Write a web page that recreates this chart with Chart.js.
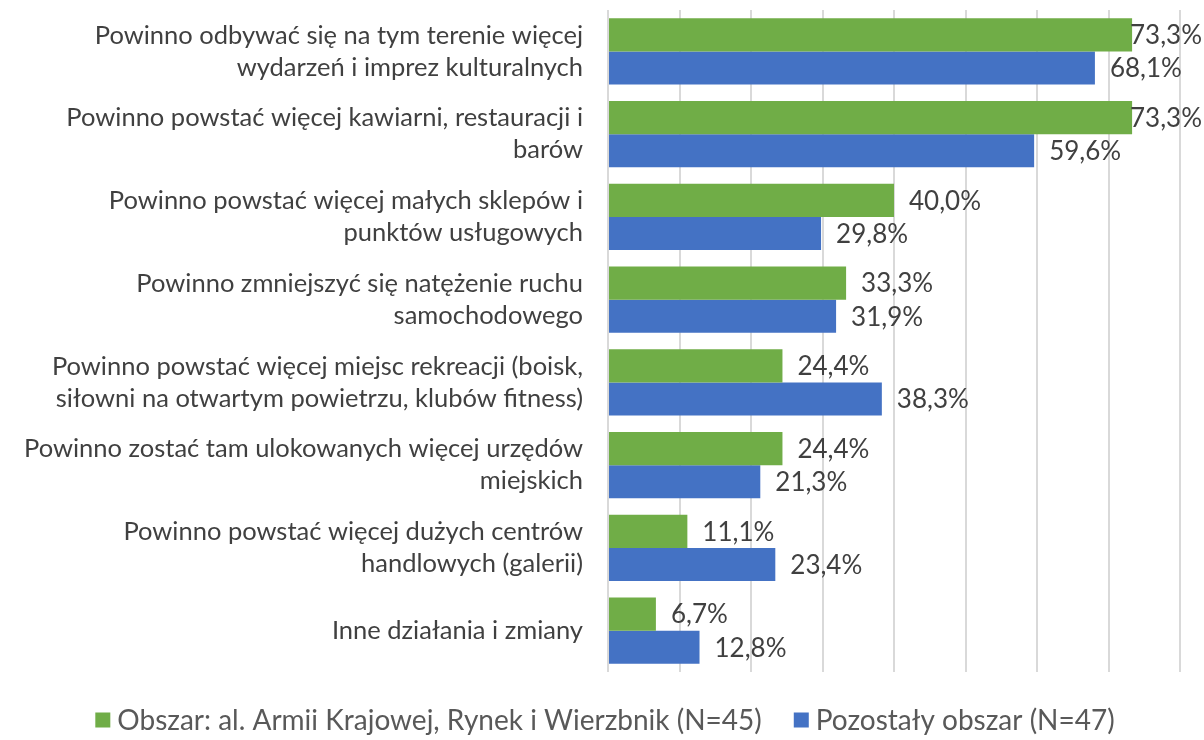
<!DOCTYPE html>
<html>
<head>
<meta charset="utf-8">
<script src="https://cdn.jsdelivr.net/npm/chart.js@4/dist/chart.umd.min.js"></script>
<style>
  html, body { margin: 0; padding: 0; background: #fff; }
  #wrap { width: 1204px; height: 740px; }
</style>
</head>
<body>
<div id="wrap"><canvas id="chart"></canvas></div>
<script>
// Categories (two-line labels as in the picture)
const categories = [
  ["Powinno odbywać się na tym terenie więcej", "wydarzeń i imprez kulturalnych"],
  ["Powinno powstać więcej kawiarni, restauracji i", "barów"],
  ["Powinno powstać więcej małych sklepów i", "punktów usługowych"],
  ["Powinno zmniejszyć się natężenie ruchu", "samochodowego"],
  ["Powinno powstać więcej miejsc rekreacji (boisk,", "siłowni na otwartym powietrzu, klubów fitness)"],
  ["Powinno zostać tam ulokowanych więcej urzędów", "miejskich"],
  ["Powinno powstać więcej dużych centrów", "handlowych (galerii)"],
  "Inne działania i zmiany"
];

const seriesNames = [
  "Obszar: al. Armii Krajowej, Rynek i Wierzbnik (N=45)",
  "Pozostały obszar (N=47)"
];

const areaValues = [73.3, 73.3, 40.0, 33.3, 24.4, 24.4, 11.1, 6.7];
const otherValues = [68.1, 59.6, 29.8, 31.9, 38.3, 21.3, 23.4, 12.8];

const FONT = "Lato, 'Open Sans', sans-serif";

// Data labels drawn right of each bar
const valueLabels = {
  id: "valueLabels",
  afterDatasetsDraw(chart) {
    const ctx = chart.ctx;
    ctx.save();
    ctx.font = "26px " + FONT;
    ctx.fillStyle = "#404040";
    ctx.textBaseline = "middle";
    ctx.textAlign = "left";
    chart.data.datasets.forEach((ds, i) => {
      chart.getDatasetMeta(i).data.forEach((bar, j) => {
        const txt = ds.data[j].toFixed(1).replace(".", ",") + "%";
        const w = ctx.measureText(txt).width;
        let x = bar.x + 15;
        if (x + w > chart.width - 2) x = chart.width - 2 - w;
        ctx.fillText(txt, x, bar.y + 1);
      });
    });
    ctx.restore();
  }
};

// Legend below the plot, centred
const bottomLegend = {
  id: "bottomLegend",
  afterDraw(chart) {
    const ctx = chart.ctx;
    ctx.save();
    ctx.font = "28px " + FONT;
    ctx.textBaseline = "middle";
    ctx.textAlign = "left";
    const box = 15, gap = 7, spacing = 32;
    const items = chart.data.datasets.map(ds => ({
      text: ds.label, color: ds.backgroundColor, w: ctx.measureText(ds.label).width
    }));
    const total = items.reduce((s, it) => s + box + gap + it.w, 0) + spacing * (items.length - 1);
    let x = (chart.width - total) / 2 + 3;
    const y = 720;
    items.forEach(it => {
      ctx.fillStyle = it.color;
      ctx.fillRect(x, y - box / 2, box, box);
      x += box + gap;
      ctx.fillStyle = "#595959";
      ctx.fillText(it.text, x, y + 1);
      x += it.w + spacing;
    });
    ctx.restore();
  }
};

new Chart(document.getElementById("chart"), {
  type: "bar",
  data: {
    labels: categories,
    datasets: [
      { label: seriesNames[0], data: areaValues, backgroundColor: "#70ad47" },
      { label: seriesNames[1], data: otherValues, backgroundColor: "#4472c4" }
    ]
  },
  options: {
    indexAxis: "y",
    responsive: true,
    maintainAspectRatio: false,
    animation: false,
    layout: { padding: { top: 10, right: 24, bottom: 68, left: 0 } },
    datasets: { bar: { categoryPercentage: 0.8, barPercentage: 1.0 } },
    scales: {
      x: {
        min: 0, max: 80,
        ticks: { display: false, stepSize: 10 },
        grid: { color: "#d9d9d9", lineWidth: 2, drawTicks: false },
        border: { display: false },
        afterFit: s => { s.height = 0; }
      },
      y: {
        afterFit: s => { s.width = 608; s.paddingTop = 0; s.paddingBottom = 0; },
        ticks: {
          color: "#404040",
          padding: 25,
          font: { family: FONT, size: 25.5, lineHeight: 1.25 }
        },
        grid: { display: false, drawTicks: false },
        border: { display: false }
      }
    },
    plugins: {
      legend: { display: false },
      tooltip: { enabled: false }
    }
  },
  plugins: [valueLabels, bottomLegend]
});
</script>
</body>
</html>
